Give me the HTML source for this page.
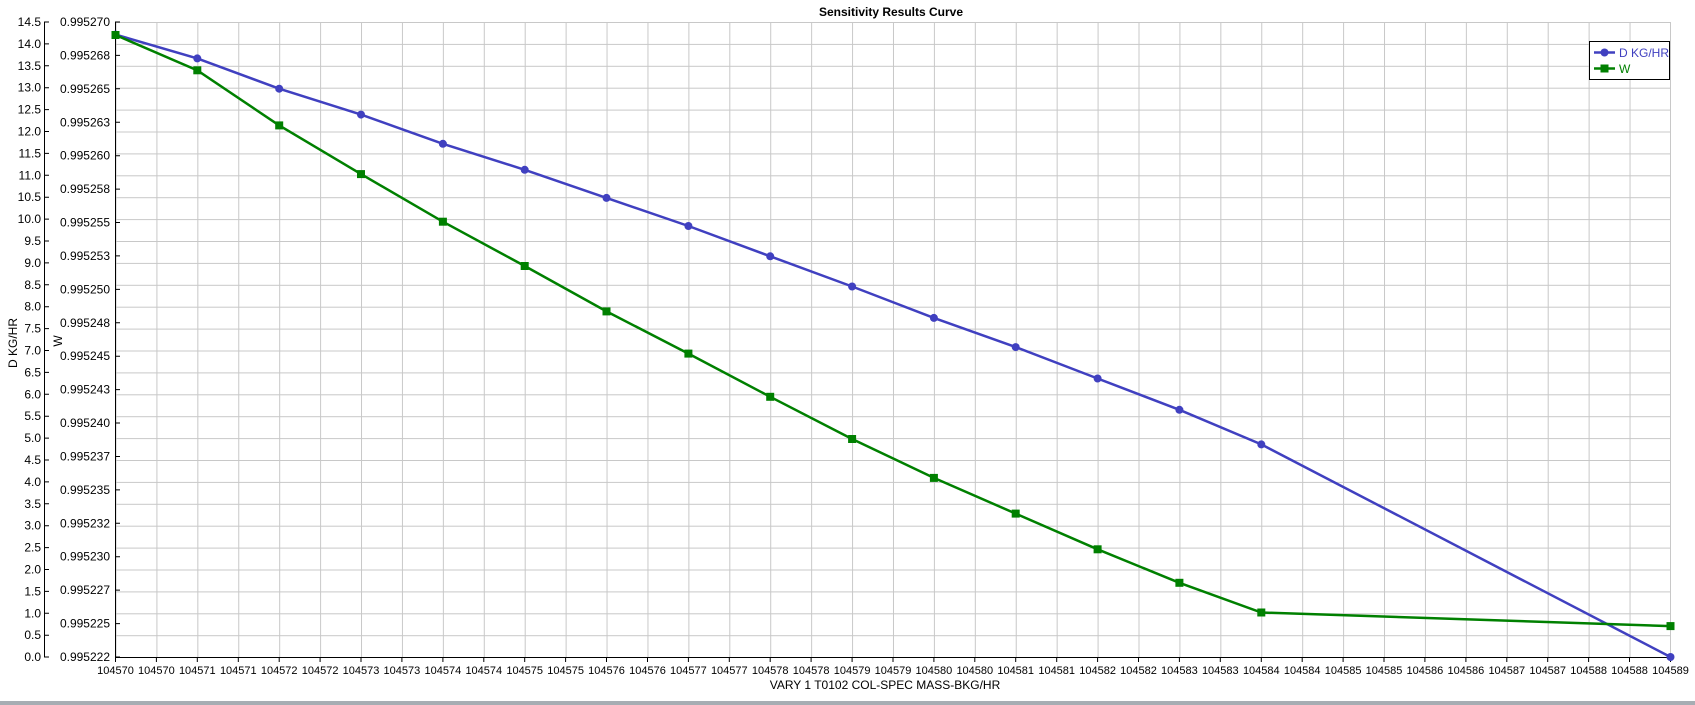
<!DOCTYPE html>
<html><head><meta charset="utf-8"><style>
html,body{margin:0;padding:0;background:#fff;}
svg{display:block;font-family:"Liberation Sans",sans-serif;}
</style></head><body>
<svg width="1695" height="705" viewBox="0 0 1695 705" xmlns="http://www.w3.org/2000/svg">
<defs>
<pattern id="g" x="115.5" y="22" width="40.92" height="21.9" patternUnits="userSpaceOnUse">
<path d="M0.5 0V21.9M0 0.5H40.92" stroke="#c8c8c8" stroke-width="1" fill="none"/>
</pattern>
</defs>
<rect x="0" y="0" width="1695" height="705" fill="#fff"/>
<rect x="115.5" y="22" width="1555" height="635" fill="url(#g)"/>
<line x1="1670.5" y1="22" x2="1670.5" y2="657" stroke="#c8c8c8"/>
<text x="891" y="16" font-size="12" font-weight="bold" text-anchor="middle">Sensitivity Results Curve</text>
<line x1="44.5" y1="22" x2="44.5" y2="657" stroke="#000"/>
<g stroke="#000">
<path d="M44 22H49M44 43.9H49M44 65.8H49M44 87.7H49M44 109.6H49M44 131.5H49M44 153.4H49M44 175.3H49M44 197.2H49M44 219.1H49M44 241H49M44 262.9H49M44 284.8H49M44 306.7H49M44 328.6H49M44 350.5H49M44 372.4H49M44 394.3H49M44 416.2H49M44 438.1H49M44 460H49M44 481.9H49M44 503.8H49M44 525.7H49M44 547.6H49M44 569.5H49M44 591.4H49M44 613.3H49M44 635.2H49M44 657H49"/>
</g>
<g font-size="12" text-anchor="end">
<text x="41" y="26">14.5</text><text x="41" y="47.9">14.0</text><text x="41" y="69.8">13.5</text><text x="41" y="91.7">13.0</text><text x="41" y="113.6">12.5</text><text x="41" y="135.5">12.0</text><text x="41" y="157.4">11.5</text><text x="41" y="179.3">11.0</text><text x="41" y="201.2">10.5</text><text x="41" y="223.1">10.0</text><text x="41" y="245">9.5</text><text x="41" y="266.9">9.0</text><text x="41" y="288.8">8.5</text><text x="41" y="310.7">8.0</text><text x="41" y="332.6">7.5</text><text x="41" y="354.5">7.0</text><text x="41" y="376.4">6.5</text><text x="41" y="398.3">6.0</text><text x="41" y="420.2">5.5</text><text x="41" y="442.1">5.0</text><text x="41" y="464">4.5</text><text x="41" y="485.9">4.0</text><text x="41" y="507.8">3.5</text><text x="41" y="529.7">3.0</text><text x="41" y="551.6">2.5</text><text x="41" y="573.5">2.0</text><text x="41" y="595.4">1.5</text><text x="41" y="617.3">1.0</text><text x="41" y="639.2">0.5</text><text x="41" y="661">0.0</text>
</g>
<text transform="translate(17,343) rotate(-90)" font-size="12" text-anchor="middle">D KG/HR</text>
<text transform="translate(62,341) rotate(-90)" font-size="12" text-anchor="middle">W</text>
<line x1="115.5" y1="22" x2="115.5" y2="657" stroke="#000"/>
<path stroke="#000" d="M115 22H120M115 55.4H120M115 88.8H120M115 122.3H120M115 155.7H120M115 189.1H120M115 222.5H120M115 255.9H120M115 289.4H120M115 322.8H120M115 356.2H120M115 389.6H120M115 423H120M115 456.5H120M115 489.9H120M115 523.3H120M115 556.7H120M115 590.1H120M115 623.6H120M115 657H120"/>
<g font-size="12" text-anchor="end">
<text x="110" y="26">0.995270</text><text x="110" y="59.4">0.995268</text><text x="110" y="92.8">0.995265</text><text x="110" y="126.3">0.995263</text><text x="110" y="159.7">0.995260</text><text x="110" y="193.1">0.995258</text><text x="110" y="226.5">0.995255</text><text x="110" y="259.9">0.995253</text><text x="110" y="293.4">0.995250</text><text x="110" y="326.8">0.995248</text><text x="110" y="360.2">0.995245</text><text x="110" y="393.6">0.995243</text><text x="110" y="427">0.995240</text><text x="110" y="460.5">0.995237</text><text x="110" y="493.9">0.995235</text><text x="110" y="527.3">0.995232</text><text x="110" y="560.7">0.995230</text><text x="110" y="594.1">0.995227</text><text x="110" y="627.6">0.995225</text><text x="110" y="661">0.995222</text>
</g>
<line x1="115.5" y1="657.5" x2="1671" y2="657.5" stroke="#000"/>
<path stroke="#000" d="M115.5 657V662M156.4 657V662M197.3 657V662M238.3 657V662M279.2 657V662M320.1 657V662M361 657V662M401.9 657V662M442.9 657V662M483.8 657V662M524.7 657V662M565.6 657V662M606.5 657V662M647.5 657V662M688.4 657V662M729.3 657V662M770.2 657V662M811.1 657V662M852.1 657V662M893 657V662M933.9 657V662M974.8 657V662M1015.7 657V662M1056.7 657V662M1097.6 657V662M1138.5 657V662M1179.4 657V662M1220.3 657V662M1261.3 657V662M1302.2 657V662M1343.1 657V662M1384 657V662M1424.9 657V662M1465.9 657V662M1506.8 657V662M1547.7 657V662M1588.6 657V662M1629.5 657V662M1670.5 657V662"/>
<g font-size="11" text-anchor="middle">
<text x="115.5" y="674">104570</text><text x="156.4" y="674">104570</text><text x="197.3" y="674">104571</text><text x="238.3" y="674">104571</text><text x="279.2" y="674">104572</text><text x="320.1" y="674">104572</text><text x="361" y="674">104573</text><text x="401.9" y="674">104573</text><text x="442.9" y="674">104574</text><text x="483.8" y="674">104574</text><text x="524.7" y="674">104575</text><text x="565.6" y="674">104575</text><text x="606.5" y="674">104576</text><text x="647.5" y="674">104576</text><text x="688.4" y="674">104577</text><text x="729.3" y="674">104577</text><text x="770.2" y="674">104578</text><text x="811.1" y="674">104578</text><text x="852.1" y="674">104579</text><text x="893" y="674">104579</text><text x="933.9" y="674">104580</text><text x="974.8" y="674">104580</text><text x="1015.7" y="674">104581</text><text x="1056.7" y="674">104581</text><text x="1097.6" y="674">104582</text><text x="1138.5" y="674">104582</text><text x="1179.4" y="674">104583</text><text x="1220.3" y="674">104583</text><text x="1261.3" y="674">104584</text><text x="1302.2" y="674">104584</text><text x="1343.1" y="674">104585</text><text x="1384" y="674">104585</text><text x="1424.9" y="674">104586</text><text x="1465.9" y="674">104586</text><text x="1506.8" y="674">104587</text><text x="1547.7" y="674">104587</text><text x="1588.6" y="674">104588</text><text x="1629.5" y="674">104588</text><text x="1670.5" y="674">104589</text>
</g>
<text x="885" y="689" font-size="12" text-anchor="middle">VARY   1 T0102 COL-SPEC MASS-BKG/HR</text>
<rect x="0" y="701" width="1695" height="4" fill="#a7adb3"/>
<polyline fill="none" stroke="#4040c0" stroke-width="2.5" points="115.5,34.6 197.3,58.4 279.2,88.7 361,114.6 442.9,143.8 524.7,169.8 606.5,197.9 688.4,226 770.2,256.3 852.1,286.5 933.9,317.9 1015.7,347.1 1097.6,378.5 1179.4,409.8 1261.3,444.4 1670.5,657"/>
<g fill="#4040c0">
<circle cx="115.5" cy="34.6" r="4"/><circle cx="197.3" cy="58.4" r="4"/><circle cx="279.2" cy="88.7" r="4"/><circle cx="361" cy="114.6" r="4"/><circle cx="442.9" cy="143.8" r="4"/><circle cx="524.7" cy="169.8" r="4"/><circle cx="606.5" cy="197.9" r="4"/><circle cx="688.4" cy="226" r="4"/><circle cx="770.2" cy="256.3" r="4"/><circle cx="852.1" cy="286.5" r="4"/><circle cx="933.9" cy="317.9" r="4"/><circle cx="1015.7" cy="347.1" r="4"/><circle cx="1097.6" cy="378.5" r="4"/><circle cx="1179.4" cy="409.8" r="4"/><circle cx="1261.3" cy="444.4" r="4"/><circle cx="1670.5" cy="657" r="4"/>
</g>
<polyline fill="none" stroke="#008000" stroke-width="2.5" points="115.5,35 197.3,70.3 279.2,125.4 361,174.1 442.9,221.7 524.7,266 606.5,311.4 688.4,353.6 770.2,396.8 852.1,439 933.9,477.9 1015.7,513.6 1097.6,549.3 1179.4,582.8 1261.3,612.5 1670.5,626.1"/>
<g fill="#008000">
<rect x="111.5" y="31" width="8" height="8"/><rect x="193.3" y="66.3" width="8" height="8"/><rect x="275.2" y="121.4" width="8" height="8"/><rect x="357" y="170.1" width="8" height="8"/><rect x="438.9" y="217.7" width="8" height="8"/><rect x="520.7" y="262" width="8" height="8"/><rect x="602.5" y="307.4" width="8" height="8"/><rect x="684.4" y="349.6" width="8" height="8"/><rect x="766.2" y="392.8" width="8" height="8"/><rect x="848.1" y="435" width="8" height="8"/><rect x="929.9" y="473.9" width="8" height="8"/><rect x="1011.7" y="509.6" width="8" height="8"/><rect x="1093.6" y="545.3" width="8" height="8"/><rect x="1175.4" y="578.8" width="8" height="8"/><rect x="1257.3" y="608.5" width="8" height="8"/><rect x="1666.5" y="622.1" width="8" height="8"/>
</g>
<rect x="1589.5" y="41.5" width="80" height="38" fill="#fff" stroke="#000" stroke-width="1"/>
<line x1="1594" y1="52.5" x2="1615" y2="52.5" stroke="#4040c0" stroke-width="2.5"/>
<circle cx="1604.5" cy="52.5" r="4" fill="#4040c0"/>
<text x="1619" y="57" font-size="12" fill="#4040c0">D KG/HR</text>
<line x1="1594" y1="68.5" x2="1615" y2="68.5" stroke="#008000" stroke-width="2.5"/>
<rect x="1600.5" y="64.5" width="8" height="8" fill="#008000"/>
<text x="1619" y="73" font-size="12" fill="#008000">W</text>
</svg>
</body></html>
